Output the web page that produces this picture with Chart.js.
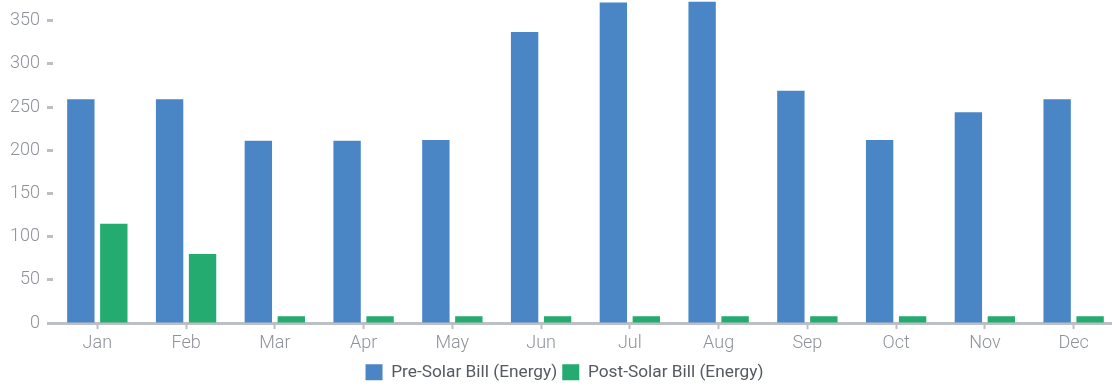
<!DOCTYPE html>
<html>
<head>
<meta charset="utf-8">
<script src="https://cdn.jsdelivr.net/npm/chart.js@4/dist/chart.umd.min.js"></script>
<style>
  html, body { margin: 0; padding: 0; background: #fff; overflow: hidden; }
  /* canvas is shifted up so the top tick padding sits above the window */
  #wrap { width: 1136px; height: 408px; position: relative; top: -17px; }
</style>
</head>
<body>
<div id="wrap"><canvas id="billChart"></canvas></div>
<script>
// Monthly bill, before and after solar
const months = ['Jan', 'Feb', 'Mar', 'Apr', 'May', 'Jun', 'Jul', 'Aug', 'Sep', 'Oct', 'Nov', 'Dec'];
const preSolar = [259, 259, 211, 211, 212, 337, 371, 372, 269, 212, 244, 259];
const postSolar = [115, 80, 8, 8, 8, 8, 8, 8, 8, 8, 8, 8];
const yTicks = [0, 50, 100, 150, 200, 250, 300, 350];

const axisGray = '#bcbfc4';
const labelGray = '#8e9299';

// nudge the legend a little to the right, like the original
const legendNudge = {
    id: 'legendNudge',
    afterLayout(chart) {
        if (chart.legend) {
            chart.legend.left += 4;
            chart.legend.right += 4;
        }
    }
};

(function() {
    const ctx = document.getElementById('billChart').getContext('2d');

    new Chart(ctx, {
        type: 'bar',
        data: {
            labels: months,
            datasets: [{
                label: 'Pre-Solar Bill (Energy)',
                data: preSolar,
                backgroundColor: '#4a86c6',
                categoryPercentage: 0.743,
                barPercentage: 0.83
            }, {
                label: 'Post-Solar Bill (Energy)',
                data: postSolar,
                backgroundColor: '#23ab70',
                categoryPercentage: 0.743,
                barPercentage: 0.83
            }]
        },
        plugins: [legendNudge],
        options: {
            responsive: true,
            maintainAspectRatio: false,
            animation: false,
            layout: {
                padding: { left: 3, right: 18, top: 0, bottom: 0 }
            },
            plugins: {
                legend: {
                    position: 'bottom',
                    labels: {
                        boxWidth: 17,
                        boxHeight: 16,
                        padding: 5,
                        color: '#555a60',
                        font: { family: 'Roboto', size: 17.3, weight: '400' }
                    }
                },
                tooltip: { enabled: false }
            },
            scales: {
                x: {
                    border: { display: true, color: axisGray, width: 3 },
                    grid: {
                        offset: false,
                        drawOnChartArea: false,
                        drawTicks: true,
                        tickLength: 6,
                        tickWidth: 2,
                        tickColor: axisGray
                    },
                    ticks: {
                        color: labelGray,
                        padding: 4,
                        font: { family: 'Roboto', size: 18, weight: '300' }
                    }
                },
                y: {
                    min: 0,
                    max: 373,
                    afterBuildTicks: axis => {
                        axis.ticks = yTicks.map(v => ({ value: v }));
                    },
                    border: { display: false },
                    grid: {
                        drawOnChartArea: false,
                        drawTicks: true,
                        tickLength: 6,
                        tickWidth: 3,
                        tickColor: axisGray
                    },
                    ticks: {
                        color: labelGray,
                        padding: 7,
                        font: { family: 'Roboto', size: 18, weight: '300' }
                    }
                }
            }
        }
    });
})();
</script>
</body>
</html>
